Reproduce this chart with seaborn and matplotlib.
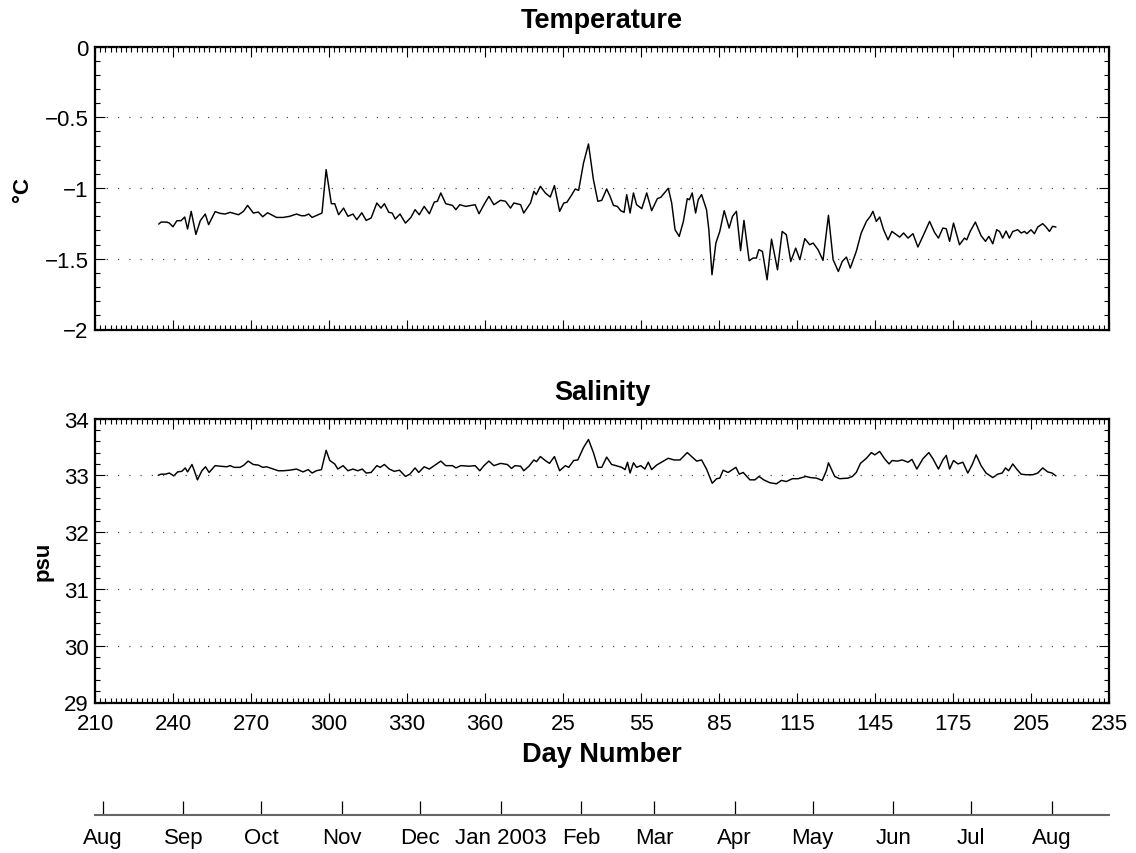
import matplotlib
matplotlib.use("Agg")
import matplotlib.pyplot as plt
from matplotlib.ticker import MultipleLocator, FixedLocator
import seaborn as sns
import pandas as pd

# ---------------- data (continuous day number: 366 = Jan 1 2003) ----------------
# (day, temperature degC)
temperature = [
    (234.5, -1.255), (235.4, -1.241), (237.7, -1.241), (238.6, -1.248), (240.0, -1.274),
    (241.5, -1.231), (243.1, -1.231), (244.5, -1.205), (245.6, -1.290), (247.0, -1.165),
    (248.8, -1.328), (250.5, -1.231), (252.4, -1.184), (253.7, -1.259), (256.2, -1.167),
    (258.1, -1.179), (260.0, -1.184), (262.0, -1.172), (265.2, -1.189), (267.1, -1.165),
    (268.7, -1.123), (270.9, -1.177), (272.8, -1.170), (274.5, -1.203), (276.4, -1.175),
    (279.8, -1.208), (282.4, -1.208), (284.9, -1.200), (287.5, -1.184), (289.4, -1.196),
    (290.7, -1.196), (292.2, -1.184), (293.5, -1.208), (296.4, -1.184), (297.3, -1.177),
    (298.9, -0.870), (299.9, -0.988), (300.9, -1.111), (302.2, -1.111), (303.7, -1.189),
    (305.6, -1.142), (307.3, -1.200), (309.2, -1.184), (310.7, -1.224), (312.6, -1.175),
    (314.3, -1.229), (316.2, -1.212), (318.4, -1.106), (320.0, -1.142), (321.3, -1.111),
    (323.0, -1.172), (324.3, -1.177), (325.5, -1.219), (327.3, -1.184), (329.4, -1.248),
    (331.5, -1.208), (333.1, -1.153), (334.7, -1.189), (336.6, -1.130), (338.6, -1.182),
    (340.5, -1.099), (341.7, -1.094), (343.0, -1.035), (344.9, -1.111), (347.5, -1.123),
    (348.8, -1.153), (350.3, -1.118), (352.6, -1.130), (356.2, -1.118), (357.7, -1.182),
    (359.6, -1.118), (361.5, -1.059), (363.4, -1.118), (366.0, -1.087), (367.9, -1.094),
    (369.8, -1.142), (371.1, -1.106), (373.7, -1.118), (374.9, -1.177), (377.5, -1.106),
    (378.8, -1.024), (379.7, -1.047), (381.3, -0.988), (383.2, -1.035), (385.1, -1.064),
    (386.7, -0.983), (388.7, -1.165), (390.3, -1.106), (391.5, -1.101), (393.4, -1.047),
    (394.7, -1.007), (396.0, -1.017), (397.9, -0.823), (399.8, -0.689), (401.7, -0.941),
    (403.4, -1.094), (404.9, -1.087), (406.8, -1.007), (408.1, -1.059), (409.4, -1.123),
    (410.9, -1.130), (412.2, -1.160), (413.5, -1.172), (414.5, -1.047), (415.8, -1.177),
    (417.1, -1.035), (418.3, -1.118), (420.3, -1.146), (422.2, -1.035), (424.1, -1.160),
    (426.3, -1.075), (427.6, -1.066), (429.0, -1.035), (430.5, -1.002), (431.8, -1.106),
    (433.1, -1.295), (434.7, -1.342), (436.3, -1.236), (437.8, -1.075), (438.6, -1.083),
    (439.7, -1.035), (441.0, -1.177), (442.0, -1.083), (443.3, -1.047), (445.2, -1.153),
    (446.1, -1.295), (447.3, -1.613), (448.8, -1.389), (450.3, -1.307), (452.0, -1.160),
    (453.9, -1.283), (455.2, -1.200), (456.7, -1.165), (458.3, -1.443), (459.6, -1.229),
    (461.6, -1.514), (463.1, -1.495), (464.4, -1.495), (465.3, -1.436), (466.7, -1.448),
    (468.5, -1.649), (470.2, -1.361), (472.5, -1.578), (474.3, -1.307), (475.9, -1.330),
    (477.6, -1.519), (479.5, -1.425), (481.1, -1.507), (483.0, -1.358), (484.9, -1.401),
    (486.2, -1.389), (488.1, -1.436), (490.0, -1.512), (492.1, -1.193), (493.9, -1.507),
    (495.9, -1.590), (497.4, -1.519), (499.0, -1.488), (500.5, -1.566), (502.8, -1.448),
    (504.7, -1.318), (506.7, -1.236), (508.2, -1.200), (509.2, -1.165), (510.5, -1.236),
    (511.8, -1.205), (513.3, -1.295), (515.0, -1.366), (516.5, -1.307), (518.2, -1.330),
    (519.5, -1.347), (521.0, -1.318), (522.7, -1.354), (524.6, -1.323), (526.5, -1.417),
    (528.4, -1.342), (531.0, -1.236), (532.9, -1.314), (534.4, -1.354), (536.1, -1.283),
    (537.4, -1.288), (538.7, -1.377), (540.2, -1.248), (542.5, -1.401), (544.4, -1.354),
    (545.3, -1.366), (546.6, -1.307), (548.6, -1.241), (550.8, -1.337), (552.5, -1.377),
    (553.8, -1.342), (555.3, -1.394), (556.8, -1.295), (557.9, -1.307), (559.1, -1.354),
    (560.4, -1.304), (561.7, -1.354), (563.0, -1.307), (564.9, -1.295), (566.2, -1.318),
    (567.5, -1.307), (568.4, -1.323), (570.0, -1.295), (571.3, -1.323), (572.6, -1.276),
    (574.5, -1.252), (575.8, -1.276), (577.1, -1.307), (578.3, -1.271), (579.6, -1.276),
]

# (day, salinity psu)
salinity = [
    (234.3, 33.00), (235.4, 33.02), (237.1, 33.02), (238.6, 33.04), (240.3, 32.99),
    (241.8, 33.06), (243.4, 33.07), (244.7, 33.13), (245.6, 33.06), (247.3, 33.19),
    (248.2, 33.08), (249.4, 32.92), (251.1, 33.08), (252.5, 33.15), (253.9, 33.05),
    (256.2, 33.17), (258.1, 33.16), (260.7, 33.15), (262.0, 33.17), (263.5, 33.14),
    (265.8, 33.14), (267.3, 33.18), (268.9, 33.25), (270.9, 33.19), (272.8, 33.18),
    (274.5, 33.14), (276.0, 33.15), (277.9, 33.12), (280.5, 33.08), (282.4, 33.08),
    (284.9, 33.09), (287.5, 33.11), (290.0, 33.06), (292.0, 33.10), (293.5, 33.04),
    (295.1, 33.08), (297.1, 33.10), (298.9, 33.44), (300.3, 33.26), (302.2, 33.20),
    (303.4, 33.11), (305.4, 33.17), (307.3, 33.08), (309.2, 33.11), (311.1, 33.08),
    (312.8, 33.11), (314.3, 33.04), (316.2, 33.05), (318.4, 33.17), (319.7, 33.14),
    (321.3, 33.19), (323.2, 33.11), (325.1, 33.07), (327.1, 33.09), (329.4, 32.98),
    (331.1, 33.02), (333.1, 33.13), (334.5, 33.05), (336.6, 33.15), (338.6, 33.11),
    (340.5, 33.17), (343.0, 33.25), (344.9, 33.17), (347.5, 33.17), (348.8, 33.13),
    (350.7, 33.17), (353.9, 33.16), (356.2, 33.17), (358.0, 33.08), (359.6, 33.17),
    (361.5, 33.25), (363.4, 33.17), (366.0, 33.21), (368.6, 33.19), (370.2, 33.12),
    (371.5, 33.17), (373.7, 33.16), (374.9, 33.08), (376.9, 33.16), (378.8, 33.27),
    (379.8, 33.24), (381.3, 33.33), (383.2, 33.26), (384.8, 33.21), (386.7, 33.33),
    (388.7, 33.08), (390.9, 33.17), (392.2, 33.14), (394.1, 33.26), (395.7, 33.27),
    (397.9, 33.49), (399.8, 33.63), (401.7, 33.40), (403.4, 33.14), (404.9, 33.14),
    (406.8, 33.32), (408.7, 33.19), (410.4, 33.17), (412.6, 33.14), (413.9, 33.10),
    (414.8, 33.23), (415.8, 33.04), (417.1, 33.22), (418.3, 33.14), (419.9, 33.17),
    (421.5, 33.11), (422.8, 33.23), (424.1, 33.10), (426.0, 33.18), (427.9, 33.23),
    (430.5, 33.30), (432.7, 33.27), (435.0, 33.27), (436.3, 33.33), (437.8, 33.40),
    (439.5, 33.33), (441.4, 33.25), (443.3, 33.27), (445.2, 33.11), (447.4, 32.86),
    (449.1, 32.94), (450.3, 32.95), (451.6, 33.09), (453.5, 33.05), (454.8, 33.09),
    (456.5, 33.14), (457.8, 33.02), (459.3, 33.05), (461.9, 32.92), (463.8, 32.92),
    (465.4, 32.98), (467.2, 32.92), (469.5, 32.87), (472.1, 32.85), (474.0, 32.91),
    (475.9, 32.89), (478.2, 32.94), (480.4, 32.94), (483.4, 32.98), (485.2, 32.96),
    (487.5, 32.95), (489.7, 32.91), (491.3, 33.08), (492.1, 33.22), (493.2, 33.11),
    (494.5, 32.98), (496.4, 32.94), (499.6, 32.95), (501.3, 32.98), (502.8, 33.05),
    (504.4, 33.21), (506.7, 33.30), (508.6, 33.40), (509.9, 33.36), (511.8, 33.42),
    (513.7, 33.29), (515.4, 33.20), (516.6, 33.26), (518.6, 33.25), (520.5, 33.27),
    (522.7, 33.23), (524.2, 33.28), (526.1, 33.11), (528.4, 33.29), (530.7, 33.40),
    (532.3, 33.29), (534.4, 33.11), (536.1, 33.27), (537.4, 33.35), (538.7, 33.11),
    (540.2, 33.26), (541.9, 33.20), (543.8, 33.23), (545.7, 33.04), (547.4, 33.19),
    (548.9, 33.36), (550.8, 33.17), (552.7, 33.04), (555.3, 32.96), (557.2, 33.02),
    (558.9, 33.04), (560.2, 33.13), (561.4, 33.08), (563.0, 33.20), (564.3, 33.12),
    (566.2, 33.02), (568.1, 33.01), (570.7, 33.01), (572.6, 33.04), (574.5, 33.13),
    (576.4, 33.06), (578.1, 33.04), (579.6, 32.99),
]

day_ticks = [210, 240, 270, 300, 330, 360, 390, 420, 450, 480, 510, 540, 570, 600]
day_labels = ["210", "240", "270", "300", "330", "360", "25", "55", "85", "115", "145", "175",
              "205", "235"]
month_ticks = [213, 244, 274, 305, 335, 366, 397, 425, 456, 486, 517, 547, 578]
month_labels = ["Aug", "Sep", "Oct", "Nov", "Dec", "Jan 2003", "Feb", "Mar", "Apr", "May",
                "Jun", "Jul", "Aug"]
temp_ticks = [-2, -1.5, -1, -0.5, 0]
temp_tick_labels = ["\u22122", "\u22121.5", "\u22121", "\u22120.5", "0"]

temp_df = pd.DataFrame(temperature, columns=["day", "temp"])
sal_df = pd.DataFrame(salinity, columns=["day", "sal"])

# ---------------- style ----------------
sns.set_style("white")
plt.rcParams["font.family"] = ["Liberation Sans", "DejaVu Sans"]
plt.rcParams["text.color"] = "black"
plt.rcParams["axes.labelcolor"] = "black"

FS = 16          # tick labels
FS_T = 19.5      # titles / x label
FS_Y = 16        # y labels
W, H = 1136, 854
fig = plt.figure(figsize=(W / 100, H / 100), dpi=100)


def frac(left, top, right, bottom):
    return [left / W, 1 - bottom / H, (right - left) / W, (bottom - top) / H]


ax1 = fig.add_axes(frac(95, 47.5, 1109, 330.5))
ax2 = fig.add_axes(frac(95, 419.5, 1109, 703.5))
ax3 = fig.add_axes(frac(95, 806, 1109, 816))

sns.lineplot(data=temp_df, x="day", y="temp", ax=ax1, color="black", lw=1.05,
             sort=False, estimator=None)
sns.lineplot(data=sal_df, x="day", y="sal", ax=ax2, color="black", lw=1.05,
             sort=False, estimator=None)

for ax in (ax1, ax2):
    ax.set_xlim(210, 600)
    ax.xaxis.set_major_locator(FixedLocator(day_ticks))
    ax.xaxis.set_minor_locator(MultipleLocator(2))
    ax.tick_params(which="both", direction="in", top=True, right=True, bottom=True,
                   left=True, labelsize=FS, colors="black")
    ax.tick_params(axis="x", which="major", pad=7.5)
    ax.tick_params(axis="y", which="major", pad=4.5)
    ax.tick_params(which="major", length=7.4, width=0.8)
    ax.tick_params(which="minor", length=3.6, width=0.8)
    for s in ax.spines.values():
        s.set_linewidth(1.6)
        s.set_color("black")
    ax.yaxis.grid(True, which="major", linestyle=(0, (1, 8)), color="0.3", lw=0.9)
    ax.xaxis.grid(False)
    ax.set_axisbelow(False)

ax1.set_ylim(-2, 0)
ax1.yaxis.set_major_locator(FixedLocator(temp_ticks))
ax1.yaxis.set_minor_locator(MultipleLocator(0.1))
ax1.set_yticklabels(temp_tick_labels)
ax1.set_xticklabels([])
ax1.set_xlabel("")
ax1.set_ylabel("\u00b0C", fontsize=FS_Y, fontweight="bold")
ax1.yaxis.set_label_coords(-0.061, 0.5)
ax1.set_title("Temperature", fontsize=FS_T, fontweight="bold", pad=13.8)

ax2.set_ylim(29, 34)
ax2.yaxis.set_major_locator(MultipleLocator(1))
ax2.yaxis.set_minor_locator(MultipleLocator(0.2))
ax2.set_xticklabels(day_labels)
ax2.set_xlabel("Day Number", fontsize=FS_T, fontweight="bold", labelpad=5)
ax2.set_ylabel("psu", fontsize=FS_Y, fontweight="bold")
ax2.yaxis.set_label_coords(-0.041, 0.5)
ax2.set_title("Salinity", fontsize=FS_T, fontweight="bold", pad=13.8)

# month axis
ax3.set_xlim(210, 600)
ax3.set_ylim(0, 1)
ax3.patch.set_alpha(0)
for side in ("top", "left", "right"):
    ax3.spines[side].set_visible(False)
ax3.spines["bottom"].set_color("0.4")
ax3.spines["bottom"].set_linewidth(1.5)
ax3.set_yticks([])
ax3.xaxis.set_major_locator(FixedLocator(month_ticks))
ax3.set_xticklabels(month_labels)
ax3.xaxis.set_minor_locator(FixedLocator([]))
ax3.tick_params(axis="x", which="major", direction="in", bottom=True, top=False,
                length=10.3, width=0.9, colors="black", labelsize=FS, pad=9)

fig.savefig("out.png", dpi=100)
